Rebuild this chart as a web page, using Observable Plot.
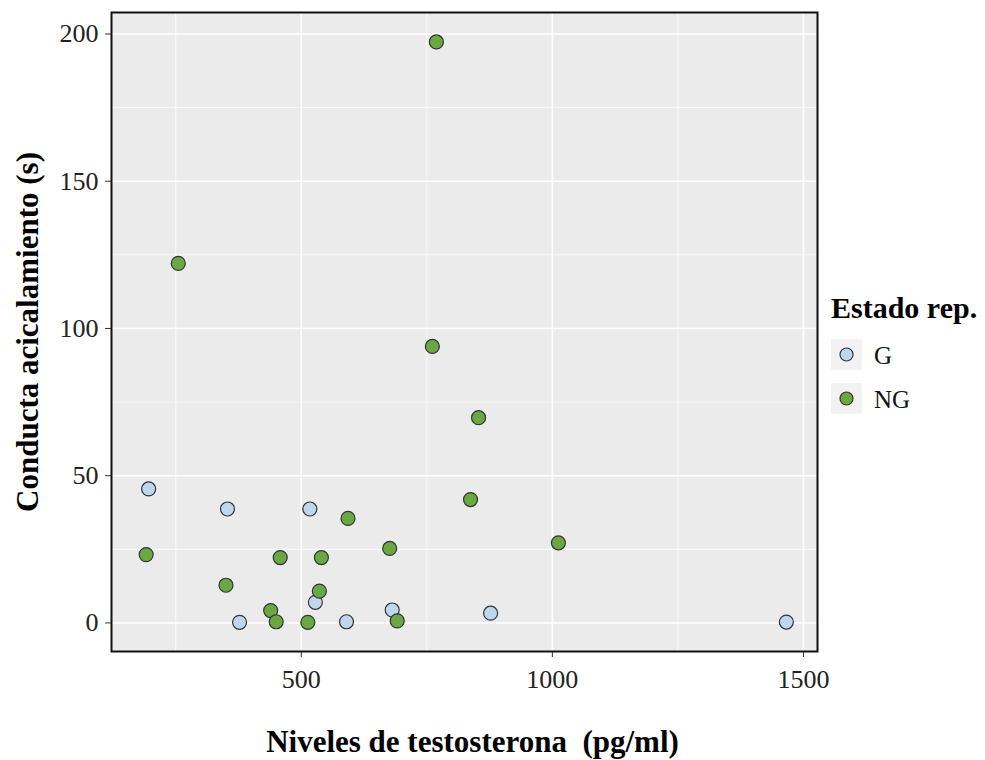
<!DOCTYPE html>
<html>
<head>
<meta charset="utf-8">
<script src="https://cdn.jsdelivr.net/npm/d3@7"></script>
<script src="https://cdn.jsdelivr.net/npm/@observablehq/plot@0.6"></script>
<style>
  body { margin: 0; background: #fff; }
  #fig { position: relative; width: 985px; height: 760px; font-family: "Liberation Serif", "Times New Roman", serif; }
  #fig svg { display: block; }
  #legend { position: absolute; left: 0; top: 0; pointer-events: none; }
</style>
</head>
<body>
<div id="fig"></div>
<script>
// Reproductive state groups and their fills
const estados = ["G", "NG"];
const colores = ["#bdd7ee", "#6aa842"];

// Testosterone level (pg/ml) per animal
const testosterona = [
  196, 353, 517, 528, 681, 377, 590, 877, 1466,
  191, 255, 350, 439, 450, 458, 513, 536, 540, 593, 676, 691, 761, 769, 837, 853, 1012
];
// Grooming behaviour (s) per animal
const acicalamiento = [
  45.5, 38.7, 38.7, 7.0, 4.4, 0.2, 0.4, 3.3, 0.3,
  23.2, 122.1, 12.8, 4.2, 0.4, 22.2, 0.2, 10.8, 22.2, 35.5, 25.3, 0.7, 93.9, 197.3, 41.9, 69.7, 27.2
];
// Reproductive state per animal
const estado = [
  "G", "G", "G", "G", "G", "G", "G", "G", "G",
  "NG", "NG", "NG", "NG", "NG", "NG", "NG", "NG", "NG", "NG", "NG", "NG", "NG", "NG", "NG", "NG", "NG"
];

// Axis ticks
const xTicks = [500, 1000, 1500];
const xMinor = [250, 750, 1250];
const yTicks = [0, 50, 100, 150, 200];
const yMinor = [25, 75, 125, 175];

const xTitle = "Niveles de testosterona  (pg/ml)";
const yTitle = "Conducta acicalamiento (s)";
const legendTitle = "Estado rep.";

const rows = testosterona.map((t, i) => ({t, a: acicalamiento[i], e: estado[i]}));

const chart = Plot.plot({
  width: 985,
  height: 760,
  marginLeft: 111,
  marginRight: 168,
  marginTop: 12,
  marginBottom: 109,
  style: {fontFamily: "'Liberation Serif', 'Times New Roman', serif", fontSize: "26px", color: "#222", background: "transparent", overflow: "visible"},
  x: {domain: [122, 1528]},
  y: {domain: [-9.7, 207.3]},
  color: {domain: estados, range: colores},
  marks: [
    Plot.frame({fill: "#ebebeb"}),
    Plot.gridX(xMinor, {stroke: "#fff", strokeOpacity: 1, strokeWidth: 0.8}),
    Plot.gridY(yMinor, {stroke: "#fff", strokeOpacity: 1, strokeWidth: 0.8}),
    Plot.gridX(xTicks, {stroke: "#fff", strokeOpacity: 1, strokeWidth: 1.6}),
    Plot.gridY(yTicks, {stroke: "#fff", strokeOpacity: 1, strokeWidth: 1.6}),
    Plot.axisX(xTicks, {tickSize: 6, tickPadding: 12, tickFormat: d => String(d), label: null, stroke: "#333", fill: "#222", fontSize: 26}),
    Plot.axisY(yTicks, {tickSize: 6, tickPadding: 7, tickFormat: d => String(d), label: null, stroke: "#333", fill: "#222", fontSize: 26}),
    Plot.dot(rows, {x: "t", y: "a", fill: "e", r: 7, stroke: "#333", strokeWidth: 1.2}),
    Plot.frame({stroke: "#111", strokeWidth: 2}),
    Plot.text([xTitle], {frameAnchor: "bottom", dx: 8, dy: 91, text: d => d, fontSize: 31, fontWeight: "bold", fill: "#000", textAnchor: "middle", lineAnchor: "middle"}),
    Plot.text([yTitle], {frameAnchor: "left", dx: -83, rotate: -90, text: d => d, fontSize: 31, fontWeight: "bold", fill: "#000", textAnchor: "middle", lineAnchor: "middle"})
  ]
});
document.getElementById("fig").appendChild(chart);

// Legend for reproductive state
const legend = d3.select("#fig").append("svg")
  .attr("id", "legend")
  .attr("width", 985)
  .attr("height", 760)
  .style("font-family", "'Liberation Serif', 'Times New Roman', serif");

legend.append("text")
  .attr("x", 831).attr("y", 318)
  .attr("font-size", 30).attr("font-weight", "bold").attr("fill", "#000")
  .text(legendTitle);

const keys = legend.selectAll("g.key").data(estados).join("g")
  .attr("class", "key")
  .attr("transform", (d, i) => `translate(831,${339 + i * 44})`);
keys.append("rect").attr("width", 31).attr("height", 31).attr("fill", "#f2f2f2");
keys.append("circle").attr("cx", 15.5).attr("cy", 15.5).attr("r", 6.5)
  .attr("fill", (d, i) => colores[i]).attr("stroke", "#333").attr("stroke-width", 1.2);
keys.append("text").attr("x", 43).attr("y", 16).attr("dy", "0.35em")
  .attr("font-size", 25).attr("fill", "#111").text(d => d);
</script>
</body>
</html>
